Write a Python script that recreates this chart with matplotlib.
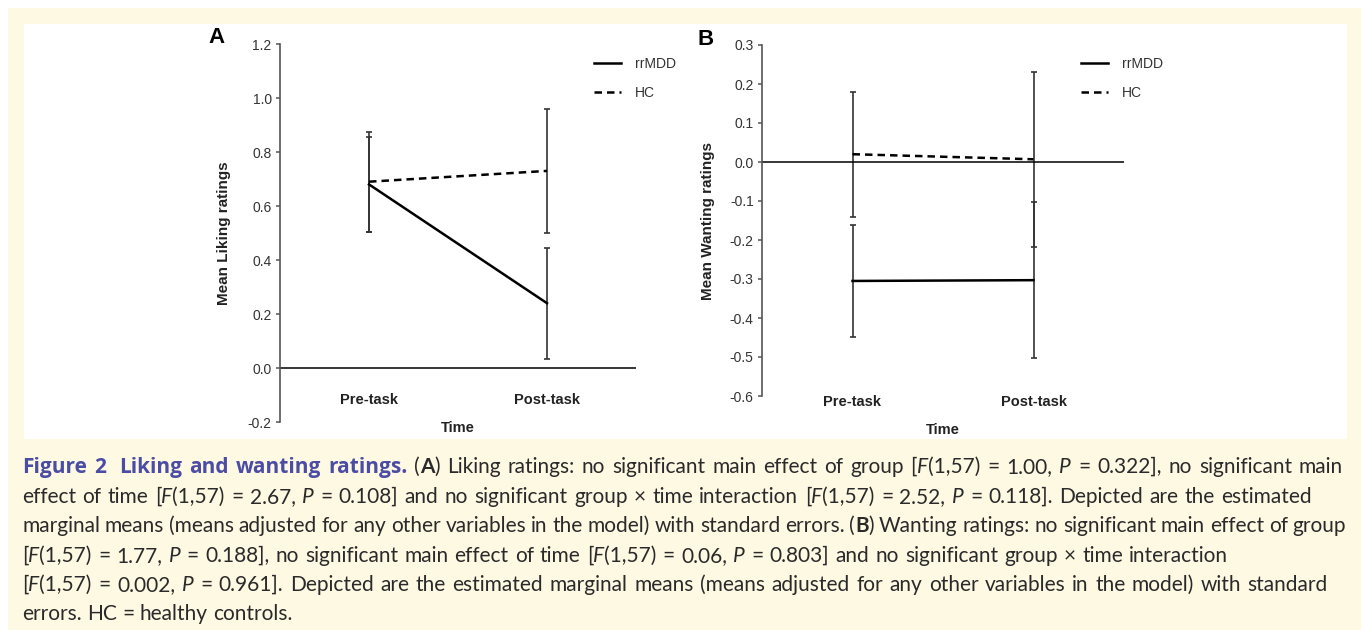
## liking / wanting ratings figure ##

import numpy as np
import matplotlib
matplotlib.use('Agg')
import matplotlib.pyplot as plt
from matplotlib.patches import Rectangle
from matplotlib.transforms import blended_transform_factory

plt.rcParams['font.family'] = ['Liberation Sans', 'DejaVu Sans']
plt.rcParams['axes.unicode_minus'] = False

times = ['Pre-task', 'Post-task']
groups = ['rrMDD', 'HC']

# panel A - liking (estimated marginal means, SE)
like_rrmdd = [0.68, 0.24]
like_rrmdd_se = [0.175, 0.205]
like_hc = [0.69, 0.73]
like_hc_se = [0.185, 0.23]

# panel B - wanting
want_rrmdd = [-0.305, -0.303]
want_rrmdd_se = [0.143, 0.20]
want_hc = [0.02, 0.007]
want_hc_se = [0.16, 0.225]

W, H = 1361, 630
fig = plt.figure(figsize=(W / 100, H / 100), dpi=100)
fig.patch.set_facecolor('white')

# cream page + white figure panel
fig.patches.append(Rectangle((8 / W, 0), 1, 1 - 8 / H, transform=fig.transFigure,
                             facecolor='#fef9e3', edgecolor='none', zorder=-10))
fig.patches.append(Rectangle((24 / W, (H - 439) / H), 1323 / W, 415 / H,
                             transform=fig.transFigure, facecolor='white',
                             edgecolor='none', zorder=-9))

xpos = np.array([0.5, 1.5])


def panel(ax, rr, rr_se, hc, hc_se, ylim, yticks, ylabel, letter, lab_y, time_y, leg_y, let_x):
    ax.set_facecolor('none')
    ax.errorbar(xpos, hc, yerr=hc_se, fmt='none', ecolor='#333333',
                elinewidth=1.2, capsize=2, capthick=1.2)
    ax.errorbar(xpos, rr, yerr=rr_se, fmt='none', ecolor='#333333',
                elinewidth=1.2, capsize=2, capthick=1.2)
    ax.plot(xpos, rr, color='black', lw=1.8, label=groups[0])
    ax.plot(xpos, hc, color='black', lw=1.8, ls=(0, (3, 2)), label=groups[1])
    ax.axhline(0, color='black', lw=1.1)
    ax.set_xlim(0, 2)
    ax.set_ylim(*ylim)
    ax.set_yticks(yticks)
    ax.set_yticklabels(['%.1f' % (v + 0.0) for v in yticks])
    ax.set_xticks([])
    for s in ['top', 'right', 'bottom']:
        ax.spines[s].set_visible(False)
    ax.spines['left'].set_color('#555555')
    ax.spines['left'].set_linewidth(1.2)
    ax.tick_params(axis='y', direction='out', length=3, width=1.1,
                   color='#555555', labelcolor='#333333', labelsize=10, pad=3)
    tr = blended_transform_factory(ax.transData, ax.transAxes)
    for x, t in zip(xpos, times):
        ax.text(x, lab_y, t, transform=tr, ha='center', va='center',
                fontsize=10.5, fontweight='bold', color='#222222')
    ax.set_xlabel('Time', fontsize=10.5, fontweight='bold', color='#222222')
    ax.xaxis.set_label_coords(0.5, time_y)
    ax.set_ylabel(ylabel, fontsize=11, fontweight='bold', color='#222222')
    ax.legend(loc='upper left', bbox_to_anchor=(0.882, leg_y), frameon=False,
              fontsize=10, handlelength=1.94, handletextpad=1.0,
              labelspacing=1.1, borderpad=0, borderaxespad=0,
              labelcolor='#333333')
    ax.text(let_x, 1.016, letter, transform=ax.transAxes, fontsize=16,
            fontweight='bold', ha='right', va='center', color='black')


axA = fig.add_axes([280 / W, (H - 422) / H, 356 / W, 378 / H])
panel(axA, like_rrmdd, like_rrmdd_se, like_hc, like_hc_se, (-0.2, 1.2),
      np.round(np.arange(-0.2, 1.21, 0.2), 1), 'Mean Liking ratings', 'A',
      0.058, 0.002, 0.966, -0.155)
axA.yaxis.set_label_coords(-0.138, 0.5)

axB = fig.add_axes([762 / W, (H - 396) / H, 362 / W, 351 / H])
panel(axB, want_rrmdd, want_rrmdd_se, want_hc, want_hc_se, (-0.6, 0.3),
      np.round(np.arange(-0.6, 0.31, 0.1), 1), 'Mean Wanting ratings', 'B',
      -0.017, -0.077, 0.967, -0.135)
axB.yaxis.set_label_coords(-0.130, 0.5)

## caption, drawn word by word so styles can mix ##
cap_size = 15.0
blue = dict(family=['Open Sans', 'DejaVu Sans'], color='#4b4ca3', fontweight='bold')
reg = dict(family=['Lato', 'DejaVu Sans'], color='#2a2a2a')
bold = dict(family=['Lato', 'DejaVu Sans'], color='#2a2a2a', fontweight='bold')
it = dict(family=['Lato', 'DejaVu Sans'], color='#2a2a2a', style='italic')

caption = [
    [('Figure 2  Liking and wanting ratings.', blue), (' (', reg), ('A', bold),
     (') Liking ratings: no significant main effect of group [', reg), ('F', it),
     ('(1,57) = 1.00, ', reg), ('P', it), (' = 0.322], no significant main', reg)],
    [('effect of time [', reg), ('F', it), ('(1,57) = 2.67, ', reg), ('P', it),
     (' = 0.108] and no significant group \u00d7 time interaction [', reg), ('F', it),
     ('(1,57) = 2.52, ', reg), ('P', it), (' = 0.118]. Depicted are the estimated', reg)],
    [('marginal means (means adjusted for any other variables in the model) with standard errors. (', reg),
     ('B', bold), (') Wanting ratings: no significant main effect of group', reg)],
    [('[', reg), ('F', it), ('(1,57) = 1.77, ', reg), ('P', it),
     (' = 0.188], no significant main effect of time [', reg), ('F', it),
     ('(1,57) = 0.06, ', reg), ('P', it),
     (' = 0.803] and no significant group \u00d7 time interaction', reg)],
    [('[', reg), ('F', it), ('(1,57) = 0.002, ', reg), ('P', it),
     (' = 0.961]. Depicted are the estimated marginal means (means adjusted for any other variables in the model) with standard', reg)],
    [('errors. HC = healthy controls.', reg)],
]
baselines = [473, 503, 532, 562, 591, 620]
right_ends = [1343, 1312, 1346, 1228, 1328, None]
x_left = 22.0

renderer = fig.canvas.get_renderer()


def text_width(s, style):
    t1 = fig.text(0, 0, '|' + s + '|', fontsize=cap_size, **style)
    t2 = fig.text(0, 0, '||', fontsize=cap_size, **style)
    w = t1.get_window_extent(renderer).width - t2.get_window_extent(renderer).width
    t1.remove()
    t2.remove()
    return w


for segs, yb, x_end in zip(caption, baselines, right_ends):
    tokens = []
    for s, style in segs:
        parts = s.split(' ')
        for i, p in enumerate(parts):
            if p:
                tokens.append((p, style, False))
            if i < len(parts) - 1:
                tokens.append((' ', style, True))
    widths = [text_width(p, st) for p, st, sp in tokens]
    n_sp = sum(1 for t in tokens if t[2])
    extra = 0.0
    if x_end is not None and n_sp:
        extra = (x_end - x_left - sum(widths)) / n_sp
    x = x_left
    for (p, st, sp), w in zip(tokens, widths):
        if sp:
            x += w + extra
            continue
        fig.text(x / W, (H - yb) / H, p, fontsize=cap_size, va='baseline',
                 ha='left', **st)
        x += w

fig.savefig('out.png', dpi=100, facecolor=fig.get_facecolor())
